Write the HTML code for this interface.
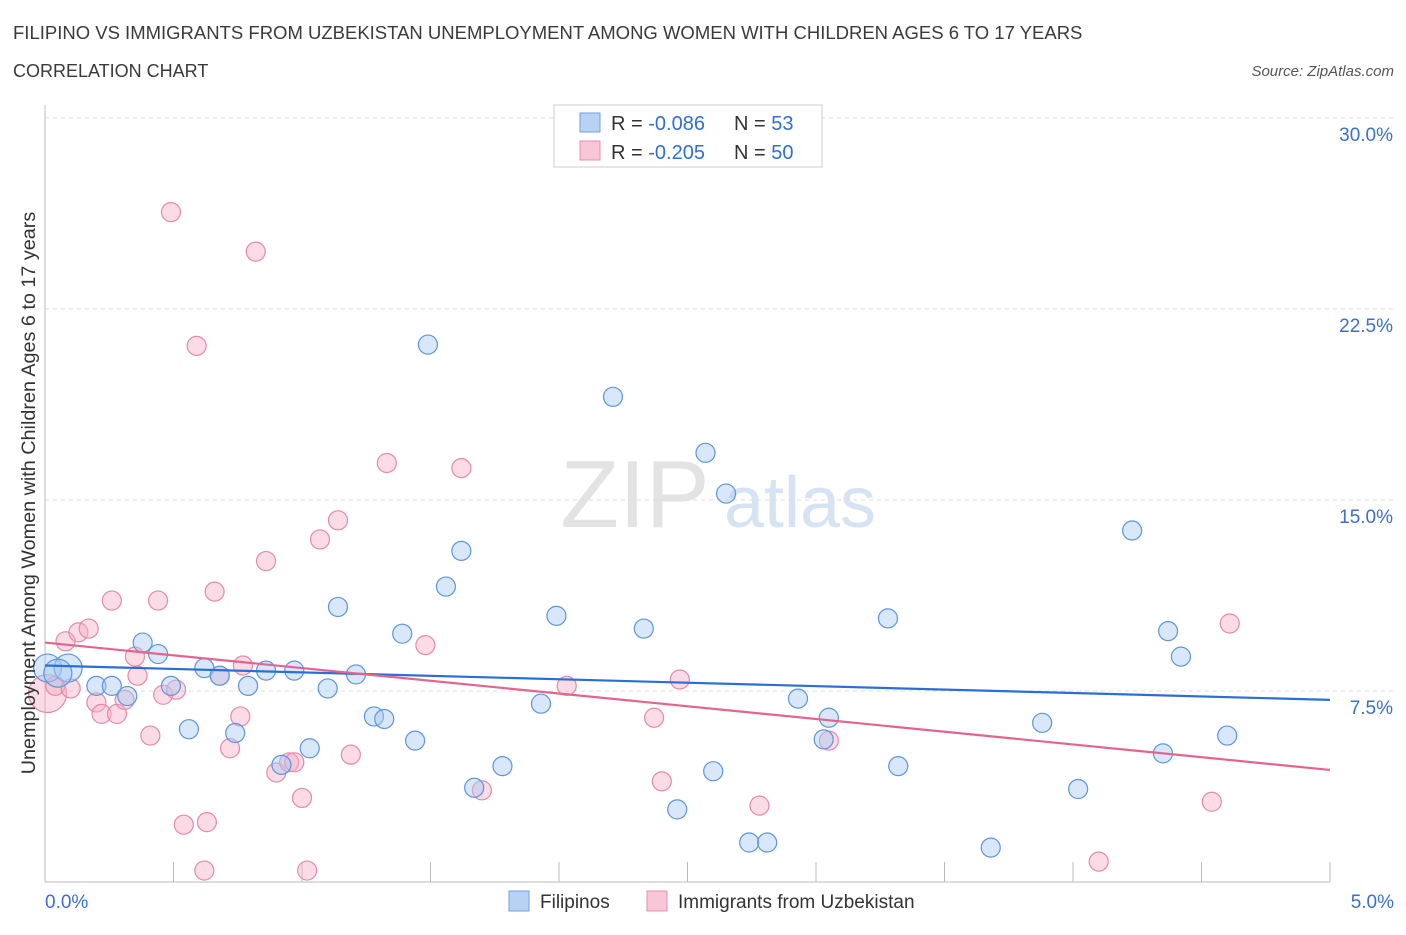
<!DOCTYPE html>
<html><head><meta charset="utf-8"><style>
body{margin:0;background:#fff;font-family:"Liberation Sans",sans-serif;}
svg text{font-family:"Liberation Sans",sans-serif;}
</style></head><body>
<svg id="chart" width="1406" height="930" viewBox="0 0 1406 930" xmlns="http://www.w3.org/2000/svg">
<text x="13" y="39" font-size="18.5" fill="#3a3a3a">FILIPINO VS IMMIGRANTS FROM UZBEKISTAN UNEMPLOYMENT AMONG WOMEN WITH CHILDREN AGES 6 TO 17 YEARS</text>
<text x="13" y="77" font-size="18" fill="#3a3a3a">CORRELATION CHART</text>
<text x="1394" y="76" font-size="15" fill="#555" font-style="italic" text-anchor="end">Source: ZipAtlas.com</text>
<g>
<text x="635" y="527" font-size="96" fill="#d8d8d8" font-family="Liberation Serif" text-anchor="middle" opacity="0.7">ZIP</text>
<text x="800" y="527" font-size="72" fill="#c4d8ee" text-anchor="middle" opacity="0.7">atlas</text>
</g>
<g id="grid"></g>
<g id="axes"></g>
<g id="marks"></g>
<g>
<rect x="554" y="105" width="268" height="62" fill="#fff" stroke="#ccc"/>
<rect x="580" y="113" width="20" height="19" fill="#b8d2f4" stroke="#6fa0e0"/>
<text x="611" y="130" font-size="20" fill="#333">R = <tspan fill="#2f6fd6">-0.086</tspan></text>
<text x="734" y="130" font-size="20" fill="#333">N = <tspan fill="#2f6fd6">53</tspan></text>
<rect x="580" y="141" width="20" height="19" fill="#f8c6d6" stroke="#e890aa"/>
<text x="611" y="159" font-size="20" fill="#333">R = <tspan fill="#2f6fd6">-0.205</tspan></text>
<text x="734" y="159" font-size="20" fill="#333">N = <tspan fill="#2f6fd6">50</tspan></text>
</g>
<g>
<rect x="509" y="891" width="20" height="20" fill="#b8d2f4" stroke="#6fa0e0"/>
<text x="540" y="908" font-size="19" fill="#333">Filipinos</text>
<rect x="647" y="891" width="20" height="20" fill="#f8c6d6" stroke="#e890aa"/>
<text x="678" y="908" font-size="19" fill="#333">Immigrants from Uzbekistan</text>
</g>
<text transform="translate(35,493) rotate(-90)" font-size="19.8" fill="#333" text-anchor="middle">Unemployment Among Women with Children Ages 6 to 17 years</text>
</svg>
<script>
const yTicks=[7.5,15,22.5,30];
const yTickLabels=["7.5%","15.0%","22.5%","30.0%"];
const xTickLabels=["0.0%","5.0%"];
const blueX=[0.01,0.09,0.2,0.26,0.32,0.38,0.44,0.49,0.56,0.62,0.68,0.74,0.79,0.86,0.92,0.97,1.03,1.10,1.14,1.21,1.28,1.32,1.39,1.44,1.49,1.56,1.62,1.67,1.78,1.93,1.99,2.21,2.33,2.46,2.57,2.60,2.65,2.74,2.81,2.93,3.03,3.05,3.28,3.32,3.68,3.88,4.02,4.23,4.35,4.37,4.42,4.60,0.05];
const blueY=[8.4,8.4,7.7,7.7,7.3,9.4,8.95,7.7,6.0,8.4,8.1,5.85,7.7,8.3,4.6,8.3,5.25,7.6,10.8,8.15,6.5,6.4,9.75,5.55,21.1,11.6,13.0,3.7,4.55,7.0,10.45,19.05,9.95,2.85,16.85,4.35,15.25,1.55,1.55,7.2,5.6,6.45,10.35,4.55,1.35,6.25,3.65,13.8,5.05,9.85,8.85,5.75,8.2];
const pinkX=[0.01,0.04,0.10,0.08,0.13,0.17,0.26,0.2,0.22,0.28,0.31,0.35,0.36,0.41,0.44,0.46,0.49,0.51,0.54,0.59,0.62,0.63,0.66,0.68,0.72,0.76,0.77,0.82,0.86,0.90,0.95,0.97,1.0,1.02,1.07,1.14,1.19,1.33,1.48,1.62,1.70,2.03,2.37,2.40,2.47,2.78,3.05,4.10,4.54,4.61];
const pinkY=[7.4,7.7,7.6,9.45,9.8,9.95,11.05,7.05,6.6,6.6,7.15,8.85,8.1,5.75,11.05,7.35,26.3,7.55,2.25,21.05,0.45,2.35,11.4,8.1,5.25,6.5,8.5,24.75,12.6,4.3,4.7,4.7,3.3,0.45,13.45,14.2,5.0,16.45,9.3,16.25,3.6,7.7,6.45,3.95,7.95,3.0,5.55,0.8,3.15,10.15];
const blueTrend=[8.5,7.15];
const pinkTrend=[9.4,4.4];
const NS="http://www.w3.org/2000/svg";
const X0=45,X1=1330,Y0=882,PXY=25.47;
const sx=v=>X0+v/5*(X1-X0);
const sy=v=>Y0-v*PXY;
function mk(tag,attrs,parent){const e=document.createElementNS(NS,tag);for(const k in attrs)e.setAttribute(k,attrs[k]);parent.appendChild(e);return e;}
const grid=document.getElementById('grid'),axes=document.getElementById('axes'),marks=document.getElementById('marks');
yTicks.forEach((t,i)=>{
 const l=mk('line',{x1:X0,x2:1395,y1:sy(t),y2:sy(t),stroke:'#ddd','stroke-dasharray':'4,4'},grid);
 
 
 const tx=mk('text',{x:1393,y:sy(t)+23,'font-size':19,fill:'#3a6fd0','text-anchor':'end'},axes);
 tx.textContent=yTickLabels[i];
 
 
});
const ya=mk('line',{x1:X0,x2:X0,y1:105,y2:Y0,stroke:'#bbb'},axes);


const xa=mk('line',{x1:X0,x2:X1,y1:Y0,y2:Y0,stroke:'#bbb'},axes);


for(let i=1;i<=10;i++){
 const t=mk('line',{x1:sx(i*0.5),x2:sx(i*0.5),y1:862,y2:Y0,stroke:'#bbb'},axes);
 
 
}
[[0,'start',45],[5,'end',1394]].forEach((d,i)=>{
 const t=mk('text',{x:d[2],y:908,'font-size':19,fill:'#3a6fd0','text-anchor':d[1]},axes);
 t.textContent=xTickLabels[i];
 
 
});
function dots(xs,ys,fill,stroke,name,bigIdx,bigR){
 xs.forEach((x,i)=>{
  const r=(bigIdx.includes(i))?bigR:9.5;
  const c=mk('circle',{cx:sx(x),cy:sy(ys[i]),r:r,fill:fill,'fill-opacity':0.45,stroke:stroke,'stroke-width':1.2},marks);
  
  
 });
}
dots(pinkX,pinkY,'#f5b0c8','#e58aa8','pink-point',[0],19);
dots(blueX,blueY,'#a9c9f1','#5d95dc','blue-point',[0,1,52],14);
const bl=mk('line',{x1:sx(0),y1:sy(blueTrend[0]),x2:sx(5),y2:sy(blueTrend[1]),stroke:'#2a6fd6','stroke-width':2.2},marks);


const pl=mk('line',{x1:sx(0),y1:sy(pinkTrend[0]),x2:sx(5),y2:sy(pinkTrend[1]),stroke:'#e4648e','stroke-width':2.2},marks);


</script>
</body></html>
